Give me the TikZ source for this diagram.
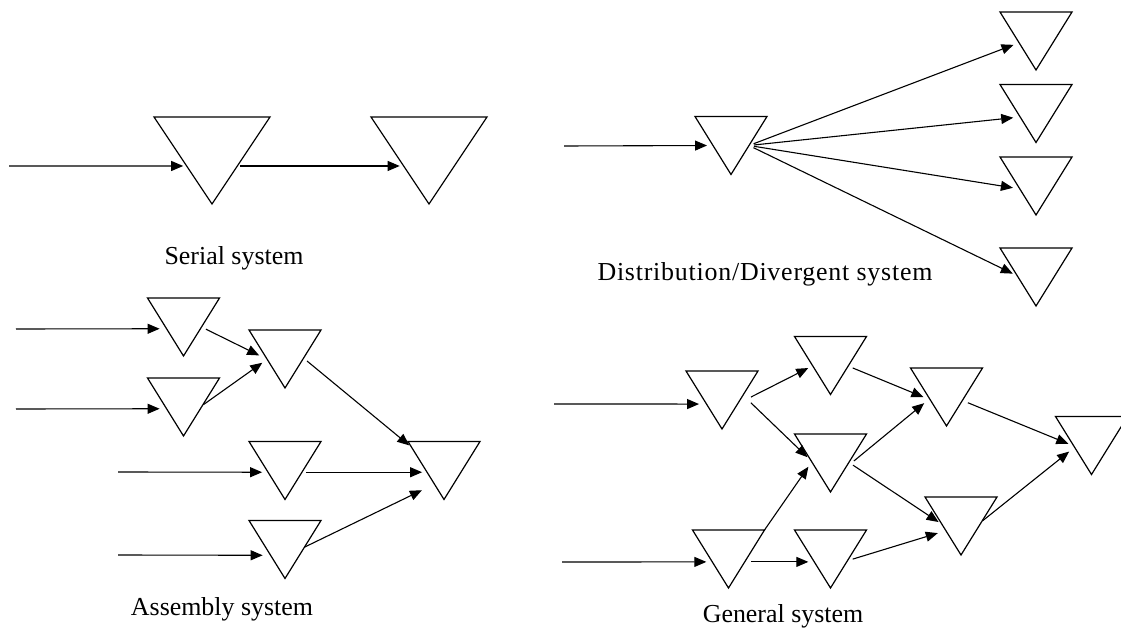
\documentclass[tikz,border=0pt]{standalone}
\usepackage{fontspec}
\setmainfont{Liberation Serif}
\usetikzlibrary{arrows.meta,calc}

\tikzset{
  stock line/.style={line width=1.2bp},
  stock/.style={rectangle, minimum width=72bp, minimum height=58bp, inner sep=0pt, outer sep=0pt,
    append after command={\pgfextra{\let\stocknode\tikzlastnode
      \draw[stock line] (\stocknode.north west) -- (\stocknode.north east) -- (\stocknode.south) -- cycle;}}},
  big stock/.style={stock, minimum width=116bp, minimum height=87bp},
  flow/.style={line width=1.1bp, -{Triangle[length=12bp,width=10bp]}},
  caption/.style={anchor=base, inner sep=0pt, font=\fontsize{26}{30}\selectfont},
}

\begin{document}
\begin{tikzpicture}[x=1bp, y=-1bp]
    \useasboundingbox (0,0) rectangle (1121,630);

    % Serial system
    \node[big stock] (s1) at (212,160.5) {};
    \node[big stock] (s2) at (429,160.5) {};
    \coordinate (sin) at (9,166);
    \draw[flow, shorten >=3.5pt] (sin) -- ($(s1.north west)!.563!(s1.south)$);
    \draw[flow, shorten <=2.5pt, shorten >=4pt] ($(s1.north east)!.563!(s1.south)$) -- ($(s2.north west)!.563!(s2.south)$);
    \node[caption] (serial) at (234,265) {Serial system};

    % Distribution / divergent system
    \node[stock] (d0) at (731,145.5) {};
    \node[stock] (t1) at (1036,41) {};
    \node[stock] (t2) at (1036,113.5) {};
    \node[stock] (t3) at (1036,186) {};
    \node[stock] (t4) at (1036,277) {};
    \coordinate (din) at (564,146);
    \draw[flow, shorten >=6pt] (din) -- ($(d0.north west)!.5!(d0.south)$);
    \draw[flow, shorten <=5pt, shorten >=6pt] ($(d0.north east)!.5!(d0.south)$) -- ($(t1.north west)!.53!(t1.south)$);
    \draw[flow, shorten <=5pt, shorten >=7pt] ($(d0.north east)!.5!(d0.south)$) -- ($(t2.north west)!.56!(t2.south)$);
    \draw[flow, shorten <=5pt, shorten >=7pt] ($(d0.north east)!.5!(d0.south)$) -- ($(t3.north west)!.55!(t3.south)$);
    \draw[flow, shorten <=5pt, shorten >=5pt] ($(d0.north east)!.5!(d0.south)$) -- ($(t4.north west)!.48!(t4.south)$);
    \node[caption] (distrib) at (765,281) {\addfontfeature{LetterSpace=3}Distribution/Divergent system};

    % Assembly system
    \node[stock] (a1) at (183.5,327) {};
    \node[stock] (a2) at (183.5,407) {};
    \node[stock] (b1) at (285,359) {};
    \node[stock] (b2) at (285,470.5) {};
    \node[stock] (b3) at (285,549.5) {};
    \node[stock] (asm) at (444,470.5) {};
    \coordinate (ain1) at (16,329);
    \coordinate (ain2) at (16,409);
    \coordinate (ain3) at (118,472);
    \coordinate (ain4) at (118,555);
    \draw[flow, shorten >=7pt] (ain1) -- ($(a1.north west)!.53!(a1.south)$);
    \draw[flow, shorten >=7pt] (ain2) -- ($(a2.north west)!.53!(a2.south)$);
    \draw[flow, shorten >=6pt] (ain3) -- ($(b2.north west)!.53!(b2.south)$);
    \draw[flow, shorten >=8pt] (ain4) -- ($(b3.north west)!.6!(b3.south)$);
    \draw[flow, shorten <=5pt, shorten >=9pt] ($(a1.north east)!.5!(a1.south)$) -- ($(b1.north west)!.507!(b1.south)$);
    \draw[flow, shorten <=1pt, shorten >=6pt] ($(a2.north east)!.47!(a2.south)$) -- ($(b1.north west)!.505!(b1.south)$);
    \draw[flow, shorten <=4.5pt, shorten >=3pt] ($(b1.north east)!.485!(b1.south)$) -- ($(asm.north west)!.1!(asm.south)$);
    \draw[flow, shorten <=4pt, shorten >=5pt] ($(b2.north east)!.53!(b2.south)$) -- ($(asm.north west)!.53!(asm.south)$);
    \draw[flow, shorten >=14pt] ($(b3.north east)!.46!(b3.south)$) -- ($(asm.north west)!.735!(asm.south)$);
    \node[caption] (assembly) at (222,615) {Assembly system};

    % General system
    \node[stock] (g1) at (722,400) {};
    \node[stock] (g2) at (830.5,365.5) {};
    \node[stock] (g3) at (830.5,463) {};
    \node[stock] (g4) at (728.5,559) {};
    \node[stock] (g5) at (830.5,559) {};
    \node[stock] (g6) at (946.5,397) {};
    \node[stock] (g7) at (961,526) {};
    \node[stock] (g8) at (1091.5,445.5) {};
    \coordinate (gin1) at (554,404);
    \coordinate (gin2) at (562,562);
    \draw[flow, shorten >=7.5pt] (gin1) -- ($(g1.north west)!.57!(g1.south)$);
    \draw[flow, shorten >=6pt] (gin2) -- ($(g4.north west)!.55!(g4.south)$);
    \draw[flow, shorten <=15pt, shorten >=5pt] ($(g1.north east)!.565!(g1.south)$) -- ($(g2.north west)!.505!(g2.south)$);
    \draw[flow, shorten <=11pt, shorten >=5pt] ($(g1.north east)!.417!(g1.south)$) -- ($(g3.north west)!.46!(g3.south)$);
    \draw[flow, shorten <=5pt, shorten >=7.5pt] ($(g2.north east)!.51!(g2.south)$) -- ($(g6.north west)!.55!(g6.south)$);
    \draw[flow, shorten <=11pt, shorten >=7pt] ($(g3.north east)!.585!(g3.south)$) -- ($(g6.north west)!.53!(g6.south)$);
    \draw[flow, shorten <=5pt, shorten >=4pt] ($(g3.north east)!.49!(g3.south)$) -- ($(g7.north west)!.47!(g7.south)$);
    \draw[flow, shorten >=6pt] (g4.north east) -- ($(g3.north west)!.48!(g3.south)$);
    \draw[flow, shorten <=6.5pt, shorten >=6pt] ($(g4.north east)!.55!(g4.south)$) -- ($(g5.north west)!.55!(g5.south)$);
    \draw[flow, shorten <=5.5pt, shorten >=8.5pt] ($(g5.north east)!.53!(g5.south)$) -- ($(g7.north west)!.58!(g7.south)$);
    \draw[flow, shorten <=6pt, shorten >=6pt] ($(g6.north east)!.56!(g6.south)$) -- ($(g8.north west)!.51!(g8.south)$);
    \draw[flow, shorten <=1pt, shorten >=7pt] ($(g7.north east)!.42!(g7.south)$) -- ($(g8.north west)!.53!(g8.south)$);
    \node[caption] (general) at (783,622) {General system};
\end{tikzpicture}
\end{document}
